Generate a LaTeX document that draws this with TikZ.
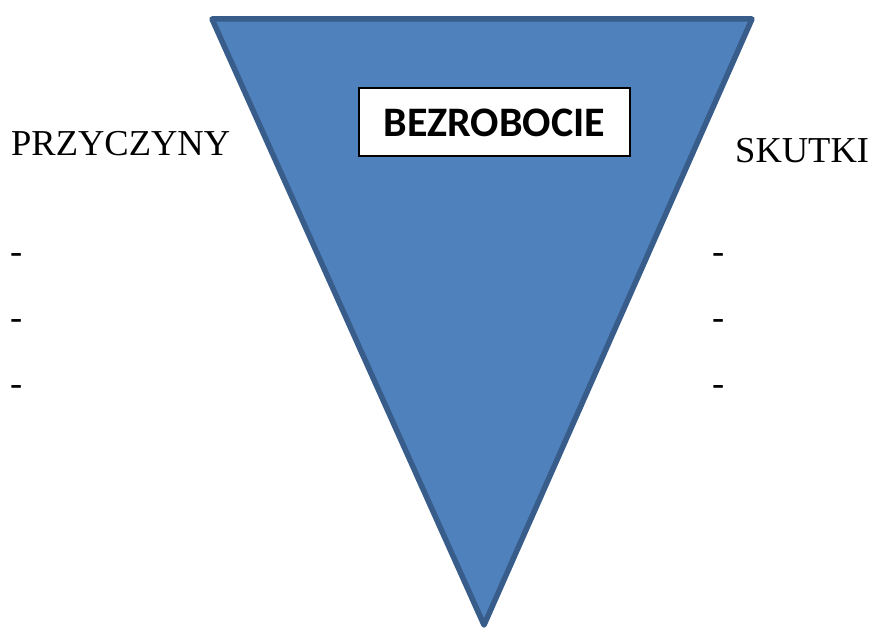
\documentclass[tikz,border=0pt]{standalone}
\usepackage{fontspec}
\setmainfont{Liberation Serif}
\newfontfamily\boxfont{Carlito}
\definecolor{trifill}{HTML}{4F81BD}
\definecolor{triedge}{HTML}{385D8A}
\begin{document}
\begin{tikzpicture}[x=1pt,y=-1pt,
  lbl/.style={anchor=base west,inner sep=0pt,font=\fontsize{36.5}{40}\selectfont},
  title/.style={draw=black,line width=2pt,fill=white,minimum width=271pt,minimum height=68pt,inner sep=0pt,font=\boxfont\bfseries\fontsize{42}{48}\selectfont}]
\useasboundingbox (0,0) rectangle (876,631);
\coordinate (tl) at (212,19);
\coordinate (tr) at (752,19);
\coordinate (bt) at (484,625);
\draw[line width=5.5pt,draw=triedge,fill=trifill,line join=round] (tl) -- (tr) -- (bt) -- cycle;
\node[title] (box) at (494.5,122.5) {BEZROBOCIE};
\node[lbl] (przy) at (11,156) {PRZYCZYNY};
\node[lbl] (skut) at (735,163) {SKUTKI};
\node[lbl] (l1) at (10,264) {-};
\node[lbl] (l2) at (10,330) {-};
\node[lbl] (l3) at (10,395) {-};
\node[lbl] (r1) at (712,264) {-};
\node[lbl] (r2) at (712,330) {-};
\node[lbl] (r3) at (712,395) {-};
\end{tikzpicture}
\end{document}
